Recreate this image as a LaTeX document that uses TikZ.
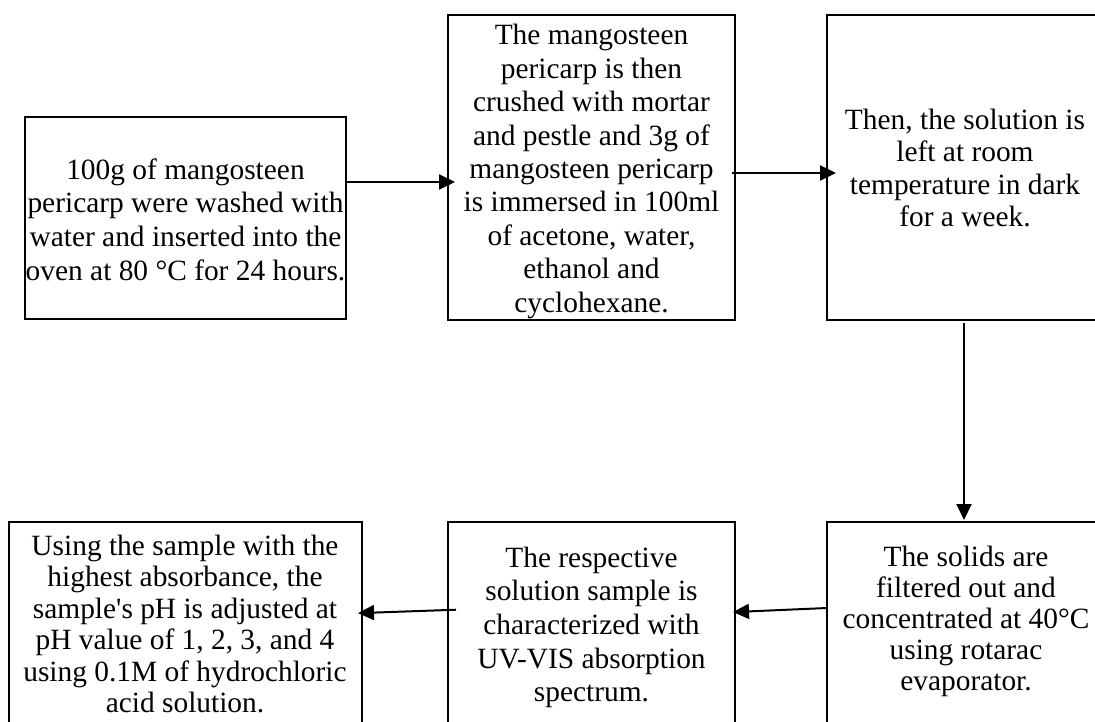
\documentclass[tikz,border=0pt]{standalone}
\usepackage{fontspec}
\setmainfont{Liberation Serif}
\usetikzlibrary{arrows.meta}
\newcommand\straightquote{\XeTeXglyph\XeTeXcharglyph"27\relax}
\begin{document}
\begin{tikzpicture}[x=1pt,y=-1pt,
  box/.style={draw, line width=2pt, rectangle, inner sep=0pt, outer sep=0pt, anchor=north west},
  txt/.style={align=center, font=\fontsize{29.4}{#1}\selectfont, inner sep=0pt},
  arr/.style={line width=2pt, -{Triangle[length=16pt,width=15pt]}}]
\path[use as bounding box, clip] (0,0) rectangle (1095,722);
% boxes
\node[box, minimum width=321pt, minimum height=202pt] (b1) at (25,117) {};
\node[box, minimum width=287pt, minimum height=305pt] (b2) at (448,15) {};
\node[box, minimum width=278pt, minimum height=305pt] (b3) at (827,15) {};
\node[box, minimum width=278pt, minimum height=240pt] (b4) at (827,522) {};
\node[box, minimum width=287pt, minimum height=240pt] (b5) at (448,522) {};
\node[box, minimum width=353pt, minimum height=240pt] (b6) at (9,522) {};
% texts
\node[txt=33.6] (t1) at (185.5,219.5) {100g of mangosteen\\pericarp were washed with\\water and inserted into the\\oven at 80 °C for 24 hours.};
\node[txt=33.4] (t2) at (591.5,171.5) {The mangosteen\\pericarp is then\\crushed with mortar\\and pestle and 3g of\\mangosteen pericarp\\is immersed in 100ml\\of acetone, water,\\ethanol and\\cyclohexane.};
\node[txt=32.3] (t3) at (965,168) {Then, the solution is\\left at room\\temperature in dark\\for a week.};
\node[txt=31] (t4) at (966,621) {The solids are\\filtered out and\\concentrated at 40°C\\using rotarac\\evaporator.};
\node[txt=33.7] (t5) at (591.5,627.5) {The respective\\solution sample is\\characterized with\\UV-VIS absorption\\spectrum.};
\node[txt=31.4] (t6) at (185,624) {Using the sample with the\\highest absorbance, the\\sample\straightquote s pH is adjusted at\\pH value of 1, 2, 3, and 4\\using 0.1M of hydrochloric\\acid solution.};
% connector heights
\coordinate (y1) at (0,182);
\coordinate (y2) at (0,173);
\coordinate (x3) at (964,0);
\coordinate (y4s) at (0,608);
\coordinate (y4e) at (0,612);
\coordinate (y5s) at (0,610);
\coordinate (y5e) at (0,613);
% connectors
\draw[arr, shorten >=-7pt] (b1.east |- y1) -- (b2.west |- y1);
\draw[arr, shorten >=-9pt, shorten <=-3pt] (b2.east |- y2) -- (b3.west |- y2);
\draw[arr, shorten <=3pt, shorten >=2pt] (x3 |- b3.south) -- (x3 |- b4.north);
\draw[arr, shorten >=-2pt] (b4.west |- y4s) -- (b5.east |- y4e);
\draw[arr, shorten <=-8pt, shorten >=-4pt] (b5.west |- y5s) -- (b6.east |- y5e);
\end{tikzpicture}
\end{document}
